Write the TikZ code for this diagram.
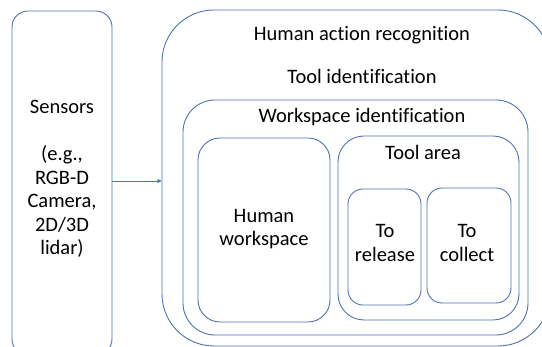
\documentclass[tikz,border=0pt]{standalone}
\usepackage{fontspec}
\setmainfont{Carlito}[Ligatures=NoCommon]
\usetikzlibrary{arrows.meta}
\definecolor{boxc}{RGB}{79,114,180}
\definecolor{arrc}{RGB}{68,114,196}
\tikzset{
  box/.style={draw=boxc, line width=0.9pt, rectangle, inner sep=0pt},
  lbl/.style={font=\fontsize{20.5}{23.5}\selectfont, align=center, inner sep=0pt, text=black}
}
\begin{document}
\begin{tikzpicture}[x=1pt,y=-1pt]
\useasboundingbox (0,0) rectangle (542,347);
\clip (0,0) rectangle (542,347);
\node[box, rounded corners=16, minimum width=100, minimum height=344] (sens) at (62,183) {};
\node[box, rounded corners=52, minimum width=388, minimum height=336] (outer) at (356,178) {};
\node[box, rounded corners=32, minimum width=345, minimum height=235] (ws) at (355.5,217.5) {};
\node[box, rounded corners=22, minimum width=132, minimum height=184] (hw) at (264,230) {};
\node[box, rounded corners=26, minimum width=181, minimum height=184] (ta) at (428.5,228) {};
\node[box, rounded corners=15, minimum width=73, minimum height=116] (rel) at (384.5,247) {};
\node[box, rounded corners=15, minimum width=84, minimum height=115] (col) at (469,245.5) {};
\node[lbl] (senst) at (62,179) {Sensors\\[23.5pt](e.g.,\\RGB-D\\Camera,\\2D/3D\\lidar)};
\node[lbl] (har) at (362,35) {Human action recognition};
\node[lbl] (tid) at (362,76) {Tool identification};
\node[lbl] (wid) at (362,117) {Workspace identification};
\node[lbl] (tat) at (423,152) {Tool area};
\node[lbl] (hwt) at (264,229) {Human\\workspace};
\node[lbl] (relt) at (385,243) {To\\release};
\node[lbl] (colt) at (467,243) {To\\collect};
\coordinate (ay) at (0,181);
\draw[arrc, line width=0.6pt, -{Triangle[length=4pt,width=4pt]}] (sens.east |- ay) -- (outer.west |- ay);
\end{tikzpicture}
\end{document}
